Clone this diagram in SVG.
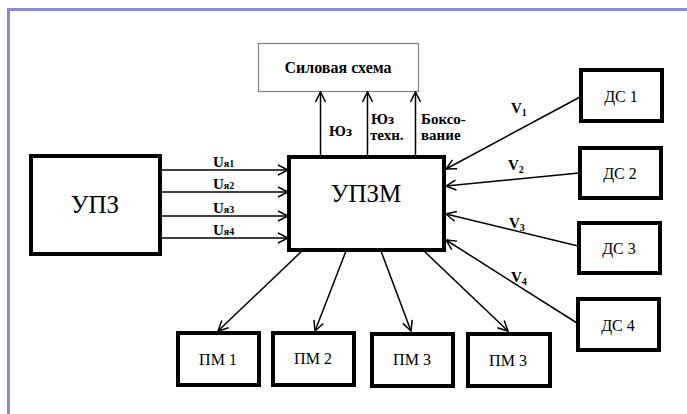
<svg xmlns="http://www.w3.org/2000/svg" width="687" height="414" viewBox="0 0 687 414">
<style>
.box{fill:#fff;stroke:#000;stroke-width:4}
.thin{fill:#fff;stroke:#808080;stroke-width:1.2}
text{font-family:'Liberation Serif','Times New Roman','Liberation Sans',serif;fill:#000}
.t{text-anchor:middle}
.b{font-weight:bold}
.c{fill:none;stroke:#000;stroke-width:1.5;marker-end:url(#ar)}
</style>
<defs>
<marker id="ar" viewBox="0 0 12 12" refX="11" refY="6" markerWidth="12" markerHeight="12" markerUnits="userSpaceOnUse" orient="auto">
<path d="M1,1 L11,6 L1,11" fill="none" stroke="#000" stroke-width="1.5"/>
</marker>
</defs>
<rect width="687" height="414" fill="#fff"/>
<path d="M8.5,414 V9.5 H687" fill="none" stroke="#8a8ac8" stroke-width="3"/>

<g id="silovaya">
<rect class="thin" x="258.5" y="43.5" width="160" height="48"/>
<text class="b t" x="338" y="73" font-size="16">Силовая схема</text>
</g>
<g id="upz">
<rect class="box" x="31" y="156" width="129" height="98"/>
<text class="t" x="95" y="213" font-size="25">УПЗ</text>
</g>
<g id="upzm">
<rect class="box" x="289" y="157" width="155" height="93"/>
<text class="t" x="366" y="202" font-size="25">УПЗМ</text>
</g>
<g id="ds1"><rect class="box" x="581" y="70" width="81" height="51"/><text class="t" x="621" y="102" font-size="16">ДС 1</text></g>
<g id="ds2"><rect class="box" x="580" y="148" width="81" height="50"/><text class="t" x="620" y="179" font-size="16">ДС 2</text></g>
<g id="ds3"><rect class="box" x="579" y="223" width="81" height="50"/><text class="t" x="619" y="254" font-size="16">ДС 3</text></g>
<g id="ds4"><rect class="box" x="578" y="299" width="81" height="51"/><text class="t" x="618" y="331" font-size="16">ДС 4</text></g>
<g id="pm1"><rect class="box" x="178" y="333" width="81" height="52"/><text class="t" x="218" y="365" font-size="16">ПМ 1</text></g>
<g id="pm2"><rect class="box" x="273" y="333" width="81" height="52"/><text class="t" x="313" y="364" font-size="16">ПМ 2</text></g>
<g id="pm3"><rect class="box" x="372" y="334" width="81" height="52"/><text class="t" x="412" y="365" font-size="16">ПМ 3</text></g>
<g id="pm4"><rect class="box" x="468" y="334" width="82" height="52"/><text class="t" x="508" y="366" font-size="16">ПМ 3</text></g>

<g id="connectors">
<path class="c" d="M320.5,157 V92"/>
<path class="c" d="M367.5,157 V92"/>
<path class="c" d="M415.5,157 V92"/>
<path class="c" d="M162,170 H288"/>
<path class="c" d="M162,192 H288"/>
<path class="c" d="M162,216 H288"/>
<path class="c" d="M162,238 H288"/>
<path class="c" d="M580,97 L446,169"/>
<path class="c" d="M579,173 L446,186"/>
<path class="c" d="M578,246 L446,214"/>
<path class="c" d="M577,323 L446,240"/>
<path class="c" d="M302,251 L218,331"/>
<path class="c" d="M346,251 L315,331"/>
<path class="c" d="M381,251 L411,331"/>
<path class="c" d="M424,251 L508,331"/>
</g>

<g id="labels">
<text class="b" x="329" y="136" font-size="15">Юз</text>
<text class="b" x="371" y="124" font-size="15">Юз</text>
<text class="b" x="370" y="140" font-size="15">техн.</text>
<text class="b" x="421" y="124" font-size="15">Боксо-</text>
<text class="b" x="421" y="140" font-size="15">вание</text>
<text class="b" x="213" y="167" font-size="15">U<tspan font-size="10">я1</tspan></text>
<text class="b" x="213" y="189" font-size="15">U<tspan font-size="10">я2</tspan></text>
<text class="b" x="213" y="213" font-size="15">U<tspan font-size="10">я3</tspan></text>
<text class="b" x="213" y="235" font-size="15">U<tspan font-size="10">я4</tspan></text>
<text class="b" x="511" y="113" font-size="15">V<tspan font-size="10" dy="3">1</tspan></text>
<text class="b" x="508" y="170" font-size="15">V<tspan font-size="10" dy="3">2</tspan></text>
<text class="b" x="509" y="228" font-size="15">V<tspan font-size="10" dy="3">3</tspan></text>
<text class="b" x="511" y="282" font-size="15">V<tspan font-size="10" dy="3">4</tspan></text>
</g>
</svg>
